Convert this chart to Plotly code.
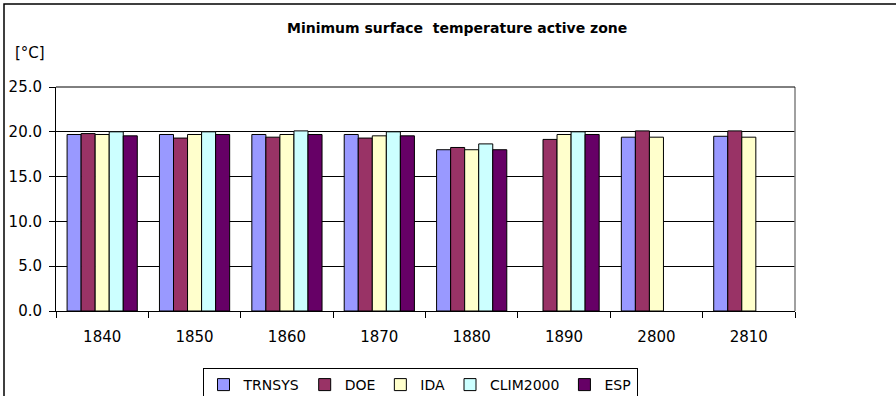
import plotly.graph_objects as go

categories = ["1840", "1850", "1860", "1870", "1880", "1890", "2800", "2810"]
trnsys = [19.7, 19.7, 19.7, 19.7, 18.0, None, 19.4, 19.5]
doe = [19.8, 19.3, 19.4, 19.3, 18.25, 19.15, 20.1, 20.1]
ida = [19.7, 19.7, 19.7, 19.55, 18.0, 19.7, 19.4, 19.4]
clim2000 = [20.0, 20.0, 20.1, 20.0, 18.65, 20.0, None, None]
esp = [19.55, 19.7, 19.7, 19.55, 18.0, 19.7, None, None]

series = [
    ("TRNSYS", trnsys, "#9999FF"),
    ("DOE", doe, "#993366"),
    ("IDA", ida, "#FFFFCC"),
    ("CLIM2000", clim2000, "#CCFFFF"),
    ("ESP", esp, "#660066"),
]

FONT = "DejaVu Sans, Arial, sans-serif"

fig = go.Figure()
for name, vals, color in series:
    fig.add_trace(go.Bar(
        name=name, x=categories, y=vals,
        marker=dict(color=color, line=dict(color="black", width=1)),
    ))

W, H = 896, 396
L, R, T, B = 56, 795, 87, 311
pw, ph = R - L, B - T

def px(x):
    return (x - L) / pw

def py(y):
    return (B - y) / ph

fig.update_layout(
    width=W, height=H,
    margin=dict(l=L, r=W - R, t=T, b=H - B, autoexpand=False),
    paper_bgcolor="white", plot_bgcolor="white",
    font=dict(family=FONT, size=14, color="black"),
    barmode="group", bargap=0.24, bargroupgap=0,
    showlegend=True,
    legend=dict(
        orientation="h", x=px(420), xanchor="center", y=py(368), yanchor="top",
        bordercolor="black", borderwidth=1, font=dict(size=14),
        itemwidth=30, tracegroupgap=0,
    ),
    xaxis=dict(
        type="category", showline=True, linecolor="black", linewidth=1,
        ticks="outside", tickson="boundaries", ticklen=6, tickcolor="black",
        tickfont=dict(size=15), showgrid=False, automargin=False,
        ticklabelstandoff=12,
    ),
    yaxis=dict(
        range=[0, 25], dtick=5, tickformat=".1f",
        showline=True, linecolor="black", linewidth=1,
        ticks="outside", ticklen=6, tickcolor="black",
        showgrid=True, gridcolor="black", gridwidth=1,
        tickfont=dict(size=15), zeroline=False, automargin=False,
        ticklabelstandoff=4,
    ),
    annotations=[
        dict(text="<b>Minimum surface  temperature active zone</b>",
             x=px(457), y=py(28), xref="paper", yref="paper",
             xanchor="center", yanchor="middle", showarrow=False,
             font=dict(size=14)),
        dict(text="[°C]", x=px(13), y=py(53), xref="paper", yref="paper",
             xanchor="left", yanchor="middle", showarrow=False,
             font=dict(size=15)),
    ],
    shapes=[
        dict(type="rect", xref="paper", yref="paper",
             x0=px(4), x1=px(1000), y0=py(1000), y1=py(4),
             line=dict(color="black", width=1.5), layer="below"),
        dict(type="line", xref="paper", yref="paper",
             x0=1, x1=1, y0=0, y1=1, line=dict(color="#808080", width=1.5)),
        dict(type="line", xref="paper", yref="paper",
             x0=0, x1=1, y0=1, y1=1, line=dict(color="black", width=1)),
    ],
)

fig.write_html("out.html", config={"displayModeBar": False},
               post_script="document.body.style.margin='0';")
